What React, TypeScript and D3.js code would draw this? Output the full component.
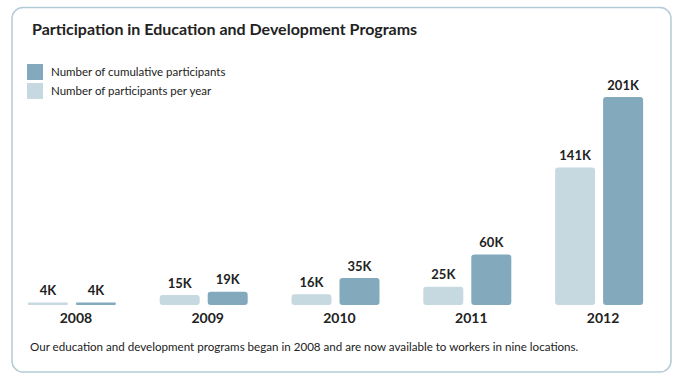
import React from 'react';
import * as d3 from 'd3';

const years = ['2008', '2009', '2010', '2011', '2012'];
const perYear = [4, 15, 16, 25, 141];
const cumulative = [4, 19, 35, 60, 201];
const legendLabels = ['Number of cumulative participants', 'Number of participants per year'];

const W = 685;
const H = 385;
const DARK = '#82a9bc';
const LIGHT = '#c6d9e1';
const FONT = 'Lato, "Open Sans", sans-serif';

const App = () => {
  const baseline = 305;

  const x = d3.scaleBand().domain(years).range([6, 665]).padding(0);
  const inner = d3.scaleBand().domain(['year', 'cum']).range([0, 88]).paddingInner(0.1667);
  // bars in the original grow a bit faster than linear
  const y = d3.scalePow().exponent(1.17).domain([0, 201]).range([0, 208]);

  const groups = years.map((yr, i) => ({
    yr,
    cx: (x(yr) as number) + x.bandwidth() / 2,
    bars: [
      { key: 'year', v: perYear[i], color: LIGHT },
      { key: 'cum', v: cumulative[i], color: DARK },
    ],
  }));

  return (
    <svg width={W} height={H} style={{ position: 'absolute', left: 0, top: 0, fontFamily: FONT }}>
      <rect x={12} y={7.5} width={659} height={364.5} rx={11} fill="#fff" stroke="#b3cbd7" strokeWidth={1.5} />
      <text x={32} y={35} fontSize={16} fontWeight={700} fill="#222">
        Participation in Education and Development Programs
      </text>

      {legendLabels.map((t, i) => (
        <g key={t} transform={`translate(27,${64 + i * 19})`}>
          <rect width={16} height={16} fill={i === 0 ? DARK : LIGHT} />
          <text x={24} y={11.5} fontSize={11.5} fill="#222">{t}</text>
        </g>
      ))}

      {groups.map((g) => (
        <g key={g.yr}>
          {g.bars.map((b) => {
            const bx = g.cx - 44 + (inner(b.key) as number);
            const h = Math.max(2.5, y(b.v));
            return (
              <g key={b.key}>
                <rect x={bx} y={baseline - h} width={inner.bandwidth()} height={h} rx={Math.min(3, h / 2)} fill={b.color} />
                <text x={bx + inner.bandwidth() / 2} y={baseline - h - 7.5} textAnchor="middle" fontSize={13} fontWeight={700} fill="#222">
                  {b.v}K
                </text>
              </g>
            );
          })}
          <text x={g.cx + 4} y={323} textAnchor="middle" fontSize={14} fontWeight={700} fill="#222">
            {g.yr}
          </text>
        </g>
      ))}

      <text x={30} y={351} fontSize={11.6} fill="#222">
        Our education and development programs began in 2008 and are now available to workers in nine locations.
      </text>
    </svg>
  );
};

export default App;
